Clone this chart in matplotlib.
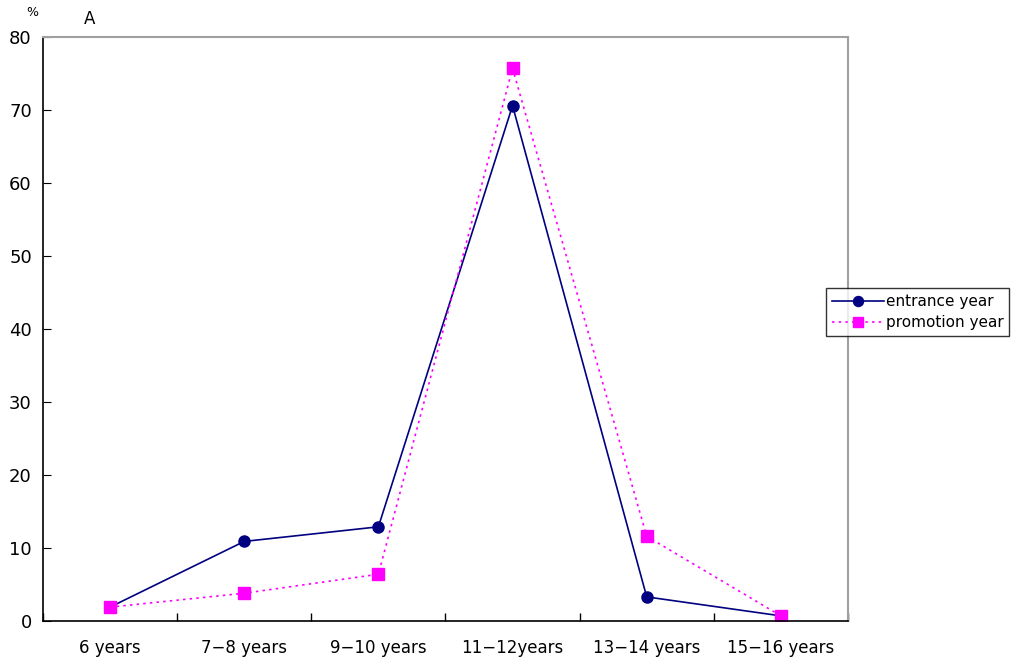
import numpy as np
import matplotlib
matplotlib.use("Agg")
import matplotlib.pyplot as plt

categories = ["6 years", "7-8 years", "9-10 years", "11-12years", "13-14 years", "15-16 years"]
entrance = [1.9, 10.9, 12.9, 70.6, 3.3, 0.7]
promotion = [1.9, 3.8, 6.4, 75.7, 11.6, 0.7]

fig = plt.figure(figsize=(10.16, 6.66), dpi=100)
ax = fig.add_axes([0.0423, 0.0676, 0.7923, 0.8768])

x = np.arange(len(categories))
ax.plot(x, entrance, color="#000080", lw=1.2, marker="o", ms=8, label="entrance year")
ax.plot(x, promotion, color="#ff00ff", lw=1.2, ls=(0, (1.5, 2.5)), marker="s", ms=8,
        label="promotion year")

ax.set_xlim(-0.5, len(categories) - 0.5)
ax.set_ylim(0, 80)
ax.set_yticks(range(0, 81, 10))
ax.set_xticks(np.arange(-0.5, len(categories), 1))
ax.set_xticklabels([])
ax.set_xticks(x, minor=True)
ax.set_xticklabels([c.replace("-", "\u2212") for c in categories], minor=True, fontsize=12)
ax.tick_params(axis="x", which="minor", length=0, pad=13)
ax.tick_params(axis="x", which="major", direction="in", length=6, width=1)
ax.tick_params(axis="y", direction="in", length=6, labelsize=13, pad=8)

for s in ["top", "right"]:
    ax.spines[s].set_color("#a0a0a0")
    ax.spines[s].set_linewidth(1.5)
for s in ["left", "bottom"]:
    ax.spines[s].set_color("black")
    ax.spines[s].set_linewidth(1.2)

leg = ax.legend(loc="center left", bbox_to_anchor=(826 / 1016, 1 - 312 / 666),
                bbox_transform=fig.transFigure, fontsize=11, frameon=True, fancybox=False,
                edgecolor="black", handlelength=3.4, handletextpad=0.1, borderpad=0.4,
                labelspacing=0.4, borderaxespad=0, markerscale=0.9)
leg.get_frame().set_linewidth(1.0)

fig.text(32 / 1016, 1 - 13 / 666, "%", fontsize=9, ha="center", va="center")
fig.text(90 / 1016, 1 - 19 / 666, "A", fontsize=12, ha="center", va="center")

fig.savefig("out.png", dpi=100)
